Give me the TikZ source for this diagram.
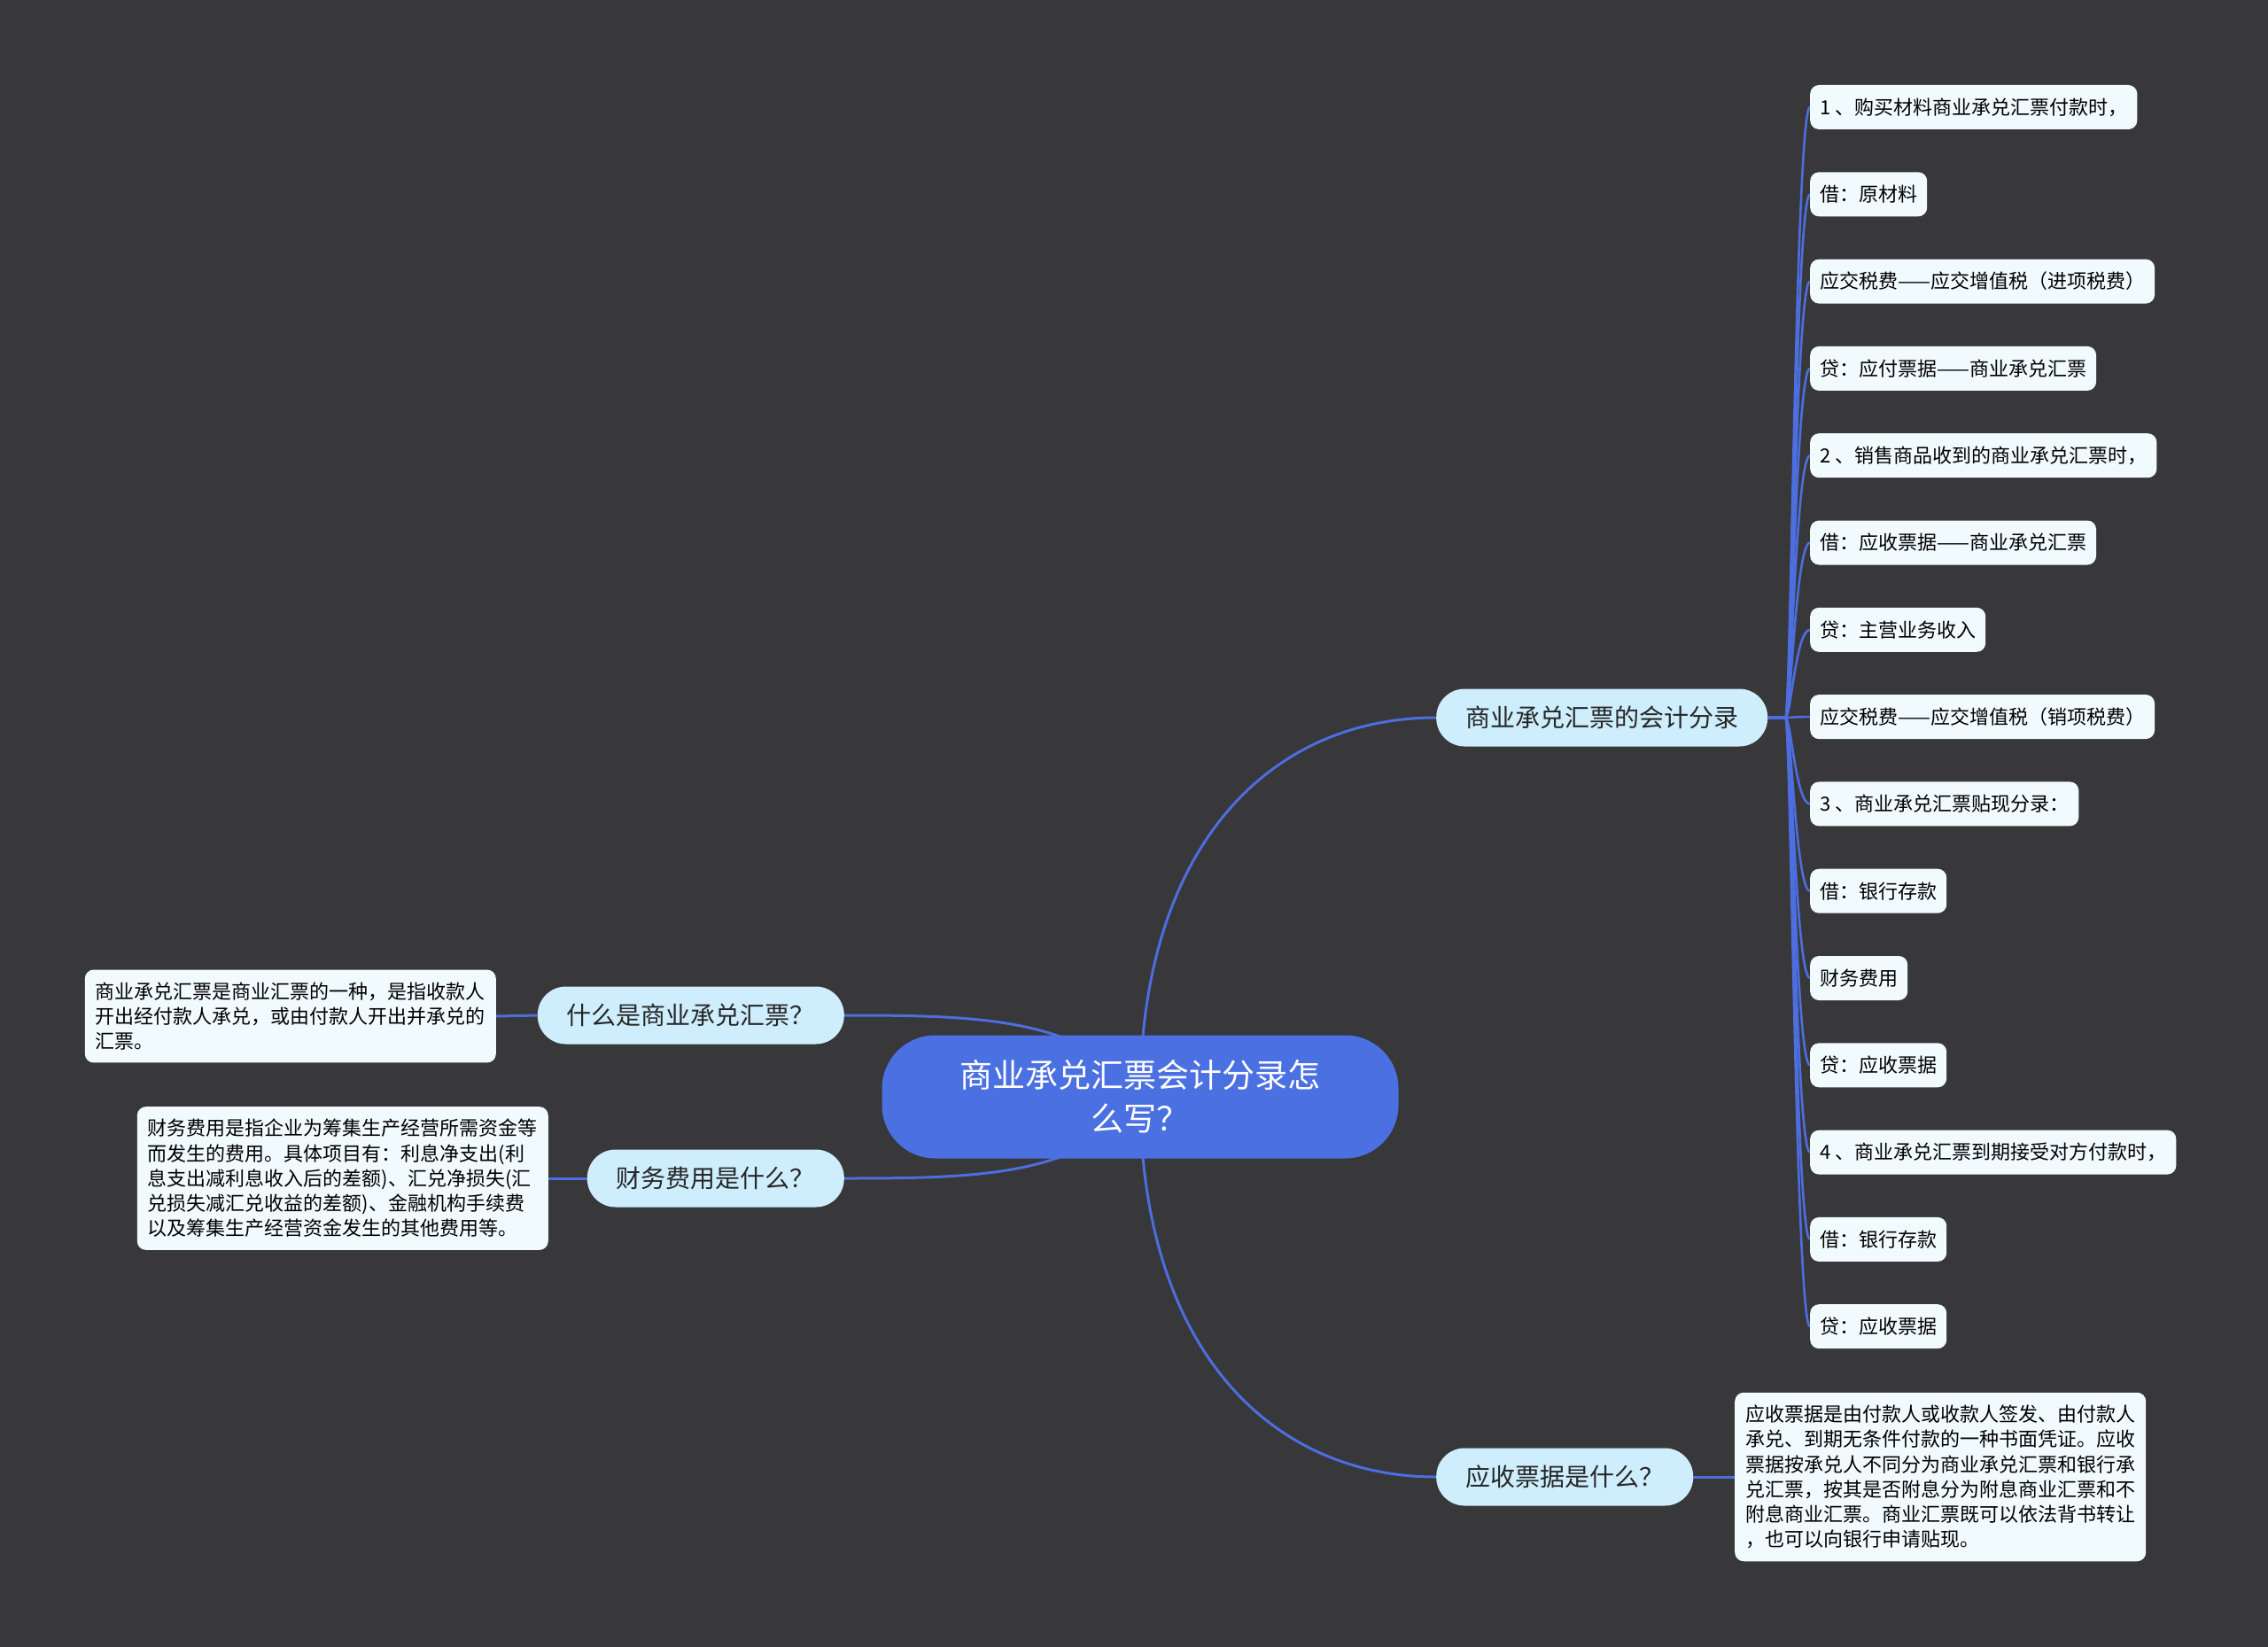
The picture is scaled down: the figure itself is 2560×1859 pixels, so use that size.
\documentclass[tikz,border=0pt]{standalone}
\usepackage{fontspec}
\newfontfamily\cjk{Noto Sans CJK SC}
\usetikzlibrary{backgrounds}
\definecolor{bgc}{RGB}{56,55,57}
\definecolor{rootc}{RGB}{75,112,226}
\definecolor{linec}{RGB}{76,110,222}
\definecolor{topicc}{RGB}{206,238,253}
\definecolor{leafc}{RGB}{241,251,254}
\begin{document}
\begin{tikzpicture}[x=1pt, y=-1pt,
    root/.style={fill=rootc, text=white, rounded corners=60pt, minimum width=583pt, minimum height=139pt, align=center, font={\cjk\fontsize{37}{49}\selectfont}},
    topic/.style={fill=topicc, text=black!85, rounded corners=32pt, minimum height=65pt, inner xsep=33pt, font={\cjk\fontsize{28}{34}\selectfont}},
    leaf/.style={fill=leafc, text=black, rounded corners=10pt, minimum height=50pt, inner xsep=11pt, anchor=west, font={\cjk\fontsize{22}{28}\selectfont}},
    note/.style={leaf, minimum height=0pt, inner xsep=12pt, inner ysep=14pt, align=left, font={\cjk\fontsize{22}{28.3}\selectfont}},
    link/.style={draw=linec, line width=3pt}]
    \node[root] (root) at (1287, 1238) {商业承兑汇票会计分录怎\\么写？};
    \node[topic, anchor=west] (b1) at (1621, 810) {商业承兑汇票的会计分录};
    \node[topic, anchor=west] (b2) at (1621, 1667) {应收票据是什么？};
    \node[topic, anchor=east] (b3) at (953, 1146) {什么是商业承兑汇票？};
    \node[topic, anchor=east] (b4) at (953, 1330) {财务费用是什么？};

    \foreach \txt [count=\i from 0] in {1 、购买材料商业承兑汇票付款时，, 借：原材料, 应交税费——应交增值税（进项税费）, 贷：应付票据——商业承兑汇票, 2 、销售商品收到的商业承兑汇票时，, 借：应收票据——商业承兑汇票, 贷：主营业务收入, 应交税费——应交增值税（销项税费）, 3 、商业承兑汇票贴现分录：, 借：银行存款, 财务费用, 贷：应收票据, 4 、商业承兑汇票到期接受对方付款时，, 借：银行存款, 贷：应收票据}
        \node[leaf] (l\i) at (2043, 121+98.3*\i) {\txt};

    \node[note] (n3) at (1958, 1667) {应收票据是由付款人或收款人签发、由付款人\\承兑、到期无条件付款的一种书面凭证。应收\\票据按承兑人不同分为商业承兑汇票和银行承\\兑汇票，按其是否附息分为附息商业汇票和不\\附息商业汇票。商业汇票既可以依法背书转让\\，也可以向银行申请贴现。};
    \node[note, anchor=east] (n1) at (560, 1147) {商业承兑汇票是商业汇票的一种，是指收款人\\开出经付款人承兑，或由付款人开出并承兑的\\汇票。};
    \node[note, anchor=east] (n2) at (619, 1330) {财务费用是指企业为筹集生产经营所需资金等\\而发生的费用。具体项目有：利息净支出(利\\息支出减利息收入后的差额)、汇兑净损失(汇\\兑损失减汇兑收益的差额)、金融机构手续费\\以及筹集生产经营资金发生的其他费用等。};

    \begin{scope}[on background layer]
        \fill[bgc] (0, 0) rectangle (2560, 1859);
        \draw[link] (root.center) .. controls +(0,-280) and +(-190,0) .. (b1.west);
        \draw[link] (root.center) .. controls +(0,280) and +(-190,0) .. (b2.west);
        \draw[link] (root.center) .. controls +(-60,-90) and +(150,0) .. (b3.east);
        \draw[link] (root.center) .. controls +(-60,90) and +(150,0) .. (b4.east);
        \foreach \i in {0,...,14}
            \draw[link, line width=2.6pt] (b1.east) -- ++(20,0) .. controls +(6,0) and +(-16,0) .. (l\i.west);
        \draw[link] (b2.east) -- (n3.west);
        \draw[link] (b3.west) -- (n1.east);
        \draw[link] (b4.west) -- (n2.east);
    \end{scope}
\end{tikzpicture}
\end{document}
